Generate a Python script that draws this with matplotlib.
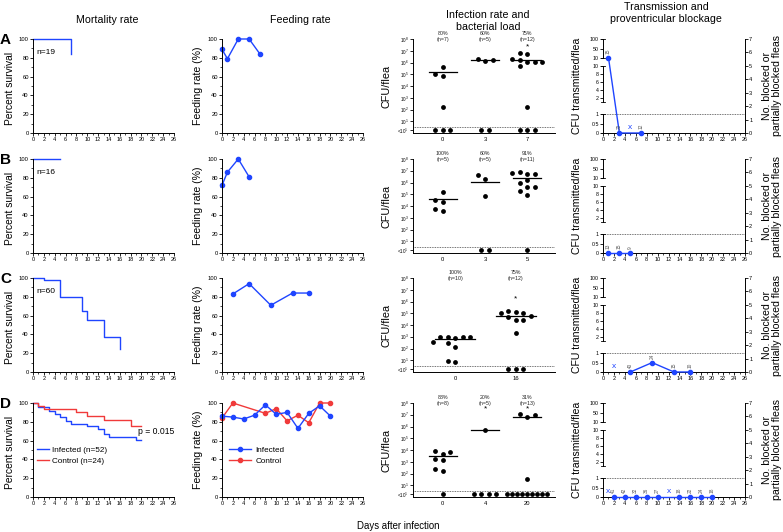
import numpy as np
import matplotlib
matplotlib.use('Agg')
import matplotlib.pyplot as plt
import matplotlib.transforms as mtransforms

plt.rcParams['font.family'] = ['Liberation Sans', 'DejaVu Sans']
plt.rcParams['mathtext.fontset'] = 'custom'
plt.rcParams['mathtext.rm'] = 'Liberation Sans'
plt.rcParams['axes.linewidth'] = 0.7

BLUE = '#1f45ff'
RED = '#f03a3a'
W, H = 783, 532

# ---- mortality (Kaplan-Meier steps: day of step, % surviving after it, last day) ----
surv_A_t = [0, 7]
surv_A_v = [100, 84]
surv_A_end = 7
surv_B_t = [0]
surv_B_v = [100]
surv_B_end = 5
surv_C_t = [0, 2, 5, 9, 10, 13, 16]
surv_C_v = [100, 98, 80, 65, 55, 37, 24]
surv_C_end = 16
surv_D_inf_t = [0, 1, 3, 4, 5, 6, 7, 10, 12, 13, 14, 19]
surv_D_inf_v = [100, 96, 92, 88, 85, 81, 78, 76, 72, 67, 64, 61]
surv_D_ctl_t = [0, 1, 2, 8, 10, 13, 18]
surv_D_ctl_v = [100, 97, 94, 90, 86, 82, 76]
surv_D_end = 20

# ---- feeding rate (%) ----
feed_A_day = [0, 1, 3, 5, 7]
feed_A = [89, 79, 100, 100, 84]
feed_B_day = [0, 1, 3, 5]
feed_B = [72, 86, 100, 81]
feed_C_day = [2, 5, 9, 13, 16]
feed_C = [83, 94, 71, 84, 84]
feed_D_inf_day = [0, 2, 4, 6, 8, 10, 12, 14, 16, 18, 20]
feed_D_inf = [86, 85, 83, 87, 98, 88, 90, 73, 89, 97, 86]
feed_D_ctl_day = [0, 2, 8, 10, 12, 14, 16, 18, 20]
feed_D_ctl = [84, 100, 89, 94, 81, 87, 79, 100, 100]

# ---- bacterial load: log10 CFU/flea of positive fleas, count of negatives ----
cfu_A_days = ['0', '3', '7']
cfu_A_pos = [[5.59, 4.88, 5.03, 2.22], [6.16, 6.33, 6.22],
             [6.07, 5.73, 6.22, 6.73, 6.81, 6.07, 6.33, 6.05, 2.2]]
cfu_A_neg = [3, 2, 3]
cfu_A_line = [5.2, 6.2, 6.25]
cfu_A_pct = ['80%\n(n=7)', '60%\n(n=5)', '75%\n(n=12)']
cfu_A_star = [False, False, True]

cfu_B_days = ['0', '3', '5']
cfu_B_pos = [[5.17, 4.32, 4.52, 3.58, 3.72], [6.3, 6.61, 4.86],
             [6.73, 6.87, 6.73, 6.78, 6.24, 6.0, 5.62, 5.28, 4.97, 5.6]]
cfu_B_neg = [0, 2, 1]
cfu_B_line = [4.57, 6.05, 6.4]
cfu_B_pct = ['100%\n(n=5)', '60%\n(n=5)', '91%\n(n=11)']
cfu_B_star = [False, False, False]

cfu_C_days = ['0', '16']
cfu_C_pos = [[2.86, 2.94, 3.0, 3.0, 3.0, 2.57, 2.43, 2.14, 0.86, 0.91],
             [5.09, 5.2, 5.0, 5.0, 4.71, 4.46, 4.46, 3.29, 4.8]]
cfu_C_neg = [0, 3]
cfu_C_line = [2.8, 4.8]
cfu_C_pct = ['100%\n(n=10)', '75%\n(n=12)']
cfu_C_star = [False, True]

cfu_D_days = ['0', '4', '20']
cfu_D_pos = [[3.7, 3.93, 3.87, 3.13, 3.27, 2.18, 2.41], [5.71],
             [6.85, 7.03, 6.97, 1.55]]
cfu_D_neg = [1, 4, 9]
cfu_D_line = [3.5, 5.71, 6.85]
cfu_D_pct = ['88%\n(n=8)', '20%\n(n=5)', '31%\n(n=13)']
cfu_D_star = [False, True, True]

# ---- transmission: CFU transmitted/flea, fleas tested, days with no data (x) ----
trans_A_day = [1, 3, 7]
trans_A = [11, 0, 0]
trans_A_n = ['15', '20', '12']
trans_A_x = [5]
trans_B_day = [1, 3, 5]
trans_B = [0, 0, 0]
trans_B_n = ['13', '15', '9']
trans_B_x = []
trans_C_day = [5, 9, 13, 16]
trans_C = [0, 0.5, 0, 0]
trans_C_n = ['40', '24', '15', '10']
trans_C_x = [2]
trans_D_day = [2, 4, 6, 8, 10, 14, 16, 18, 20]
trans_D = [0, 0, 0, 0, 0, 0, 0, 0, 0]
trans_D_n = ['41', '42', '32', '36', '27', '18', '22', '24', '18']
trans_D_x = [1, 12]

ROWS = [(39, 133), (159, 253), (278, 372), (403, 497)]
COLS = {'surv': (33, 174), 'feed': (222, 363), 'cfu': (413, 555), 'trans': (603, 745)}


def px_box(l, t, r, b):
    return [l / W, 1 - b / H, (r - l) / W, (b - t) / H]


def day_axis(ax):
    ax.set_xlim(0, 26)
    ax.set_xticks(range(0, 27, 2))
    ax.set_xticks(range(0, 27), minor=True)
    ax.tick_params(axis='x', labelsize=4, length=2, width=0.6, pad=1)
    ax.tick_params(axis='x', which='minor', length=1.2, width=0.5)
    ax.spines['top'].set_visible(False)
    ax.spines['right'].set_visible(False)


def pct_axis(ax):
    day_axis(ax)
    ax.set_ylim(0, 100)
    ax.set_yticks(range(0, 101, 20))
    ax.set_yticks(range(0, 101, 10), minor=True)
    ax.tick_params(axis='y', labelsize=4.2, length=2, width=0.6, pad=1)
    ax.tick_params(axis='y', which='minor', length=1.2, width=0.5)


def km(ax, t, v, end, color, label=None):
    return ax.step(list(t) + [end], list(v) + [v[-1]], where='post', color=color,
                   lw=1, clip_on=False, label=label)[0]


def cfu_panel(ax, days, pos, neg, line, pct, star, star_y):
    n = len(days)
    ax.set_xlim(-0.7, n - 1 + 0.65)
    ax.set_ylim(0, 8)
    ax.set_xticks(range(n))
    ax.set_xticklabels(days)
    ax.set_yticks([0.22] + list(range(1, 9)))
    ax.set_yticklabels(['<$10^{1}$'] + ['$10^{%d}$' % k for k in range(1, 9)])
    ax.tick_params(axis='y', labelsize=3.3, length=2, width=0.6, pad=1)
    ax.tick_params(axis='x', labelsize=4.2, length=0, pad=3)
    ax.spines['top'].set_visible(False)
    ax.spines['right'].set_visible(False)
    ax.axhline(0.5, color='#444444', lw=0.6, ls=(0, (1, 1)))
    p0 = ax.transData.transform((0, 0))
    p1 = ax.transData.transform((1, 1))
    pxx, pxy = p1[0] - p0[0], p1[1] - p0[1]
    step = 7.5
    for i in range(n):
        placed = []
        xs, ys = [], []
        for v in pos[i]:
            yp = v * pxy
            for k in [0, -1, 1, -2, 2, -3, 3, -4, 4, -5, 5]:
                xp = k * step
                if all(abs(xp - a) > 6 or abs(yp - b) > 5.5 for a, b in placed):
                    break
            placed.append((xp, yp))
            xs.append(i + xp / pxx)
            ys.append(v)
        m = neg[i]
        if m:
            sp = step if m == 1 else min(step, 40 / (m - 1))
            for j in range(m):
                xs.append(i + (j - (m - 1) / 2) * sp / pxx)
                ys.append(0.22)
        ax.scatter(xs, ys, s=12, color='black', zorder=3, clip_on=False, linewidths=0)
        ax.plot([i - 0.33, i + 0.33], [line[i], line[i]], color='black', lw=0.9)
        ax.text(i, 8.2, pct[i], ha='center', va='center', fontsize=3.8,
                linespacing=1.3, color='#222222')
        if star[i]:
            ax.text(i, star_y, '*', ha='center', va='center', fontsize=6)


def to_r(v):
    if v <= 1:
        return v * 1.4
    if v <= 10:
        return 2.33 + (v - 1) * 0.29875
    return 5.6 + (v - 10) * 1.4 / 90


def trans_panel(ax, days, vals, ns, xdays):
    day_axis(ax)
    ax.set_ylim(0, 7)
    ax.spines['left'].set_visible(False)
    r = [to_r(v) for v in vals]
    ax.plot(days, r, '-o', color=BLUE, ms=3, lw=1, clip_on=False, zorder=3)
    for d, rv, lab in zip(days, r, ns):
        ax.text(d, rv + 0.3, lab, rotation=90, ha='center', va='bottom',
                fontsize=3.4, color='#555555')
    for d in xdays:
        ax.text(d, 0.38, 'x', color=BLUE, ha='center', va='center', fontsize=6)
    ax.axhline(to_r(1), color='#444444', lw=0.6, ls=(0, (1, 1)))
    tr = mtransforms.blended_transform_factory(ax.transAxes, ax.transData)
    for a, b in [(0, 1), (1.0001, 10), (10.0001, 100)]:
        ra, rb = to_r(a), to_r(b)
        ax.plot([0, 0], [ra, rb], transform=tr, color='black', lw=0.7, clip_on=False)
        for y in (ra, rb):
            ax.plot([-0.012, 0.012], [y, y], transform=tr, color='black', lw=0.6,
                    clip_on=False)
    ticks = [0, 0.5, 1, 2, 4, 6, 8, 10, 10.0001, 50, 100]
    labels = ['0', '0.5', '1', '2', '4', '6', '8', '10', '10', '50', '100']
    ax.set_yticks([to_r(t) for t in ticks])
    ax.set_yticklabels(labels)
    ax.tick_params(axis='y', labelsize=3.8, length=2, width=0.6, pad=1)
    ax2 = ax.twinx()
    ax2.set_ylim(0, 7)
    ax2.set_yticks(range(8))
    ax2.tick_params(axis='y', labelsize=4, length=2, width=0.6, pad=1)
    for s in ['left', 'top', 'bottom']:
        ax2.spines[s].set_visible(False)


fig = plt.figure(figsize=(W / 100, H / 100), dpi=100)

surv = []
feed = []
cfu = []
trans = []
for top, bot in ROWS:
    surv.append(fig.add_axes(px_box(COLS['surv'][0], top, COLS['surv'][1], bot)))
    feed.append(fig.add_axes(px_box(COLS['feed'][0], top, COLS['feed'][1], bot)))
    cfu.append(fig.add_axes(px_box(COLS['cfu'][0], top, COLS['cfu'][1], bot)))
    trans.append(fig.add_axes(px_box(COLS['trans'][0], top, COLS['trans'][1], bot)))

# mortality
for ax in surv:
    pct_axis(ax)
km(surv[0], surv_A_t, surv_A_v, surv_A_end, BLUE)
km(surv[1], surv_B_t, surv_B_v, surv_B_end, BLUE)
km(surv[2], surv_C_t, surv_C_v, surv_C_end, BLUE)
h1 = km(surv[3], surv_D_inf_t, surv_D_inf_v, surv_D_end, BLUE, 'Infected (n=52)')
h2 = km(surv[3], surv_D_ctl_t, surv_D_ctl_v, surv_D_end, RED, 'Control (n=24)')
for ax, lab in zip(surv[:3], ['n=19', 'n=16', 'n=60']):
    ax.text(0.025, 0.86, lab, transform=ax.transAxes, fontsize=6, va='center')
surv[3].legend(handles=[h1, h2], loc='center left', bbox_to_anchor=(0.03, 0.44),
               frameon=False, fontsize=5.9, handlelength=1.4, handletextpad=0.4,
               labelspacing=0.45, borderaxespad=0, borderpad=0)
surv[3].text(0.745, 0.70, 'p = 0.015', transform=surv[3].transAxes, fontsize=6.2,
             va='center')

# feeding
for ax in feed:
    pct_axis(ax)
feed[0].plot(feed_A_day, feed_A, '-o', color=BLUE, ms=3, lw=1, clip_on=False)
feed[1].plot(feed_B_day, feed_B, '-o', color=BLUE, ms=3, lw=1, clip_on=False)
feed[2].plot(feed_C_day, feed_C, '-o', color=BLUE, ms=3, lw=1, clip_on=False)
feed[3].plot(feed_D_ctl_day, feed_D_ctl, '-o', color=RED, ms=3, lw=1, clip_on=False,
             label='Control')
feed[3].plot(feed_D_inf_day, feed_D_inf, '-o', color=BLUE, ms=3, lw=1, clip_on=False,
             label='Infected')
hh, ll = feed[3].get_legend_handles_labels()
feed[3].legend(hh[::-1], ll[::-1], loc='center left', bbox_to_anchor=(0.05, 0.44),
               frameon=False, fontsize=5.9, handlelength=2.7, handletextpad=0.5,
               labelspacing=0.45, borderaxespad=0, borderpad=0)

# bacterial load
cfu_panel(cfu[0], cfu_A_days, cfu_A_pos, cfu_A_neg, cfu_A_line, cfu_A_pct, cfu_A_star, 7.33)
cfu_panel(cfu[1], cfu_B_days, cfu_B_pos, cfu_B_neg, cfu_B_line, cfu_B_pct, cfu_B_star, 7.33)
cfu_panel(cfu[2], cfu_C_days, cfu_C_pos, cfu_C_neg, cfu_C_line, cfu_C_pct, cfu_C_star, 6.2)
cfu_panel(cfu[3], cfu_D_days, cfu_D_pos, cfu_D_neg, cfu_D_line, cfu_D_pct, cfu_D_star, 7.5)

# transmission
trans_panel(trans[0], trans_A_day, trans_A, trans_A_n, trans_A_x)
trans_panel(trans[1], trans_B_day, trans_B, trans_B_n, trans_B_x)
trans_panel(trans[2], trans_C_day, trans_C, trans_C_n, trans_C_x)
trans_panel(trans[3], trans_D_day, trans_D, trans_D_n, trans_D_x)


# text around the grid
def ftext(x, y, s, **kw):
    fig.text(x / W, 1 - y / H, s, **kw)


ftext(107, 20, 'Mortality rate', ha='center', va='center', fontsize=7.7)
ftext(300, 20, 'Feeding rate', ha='center', va='center', fontsize=7.7)
ftext(488, 21.5, 'Infection rate and\nbacterial load', ha='center', va='center',
      fontsize=7.7, linespacing=1.25)
ftext(666, 13.5, 'Transmission and\nproventricular blockage', ha='center', va='center',
      fontsize=7.7, linespacing=1.25)
for (top, bot), letter in zip(ROWS, 'ABCD'):
    yc = (top + bot) / 2
    ftext(0, top + 1, letter, ha='left', va='center', fontsize=11, fontweight='bold')
    ftext(10, yc + 2, 'Percent survival', rotation=90, ha='center', va='center',
          fontsize=7.4)
    ftext(198, yc, 'Feeding rate (%)', rotation=90, ha='center', va='center', fontsize=7.6)
    ftext(387, yc, 'CFU/flea', rotation=90, ha='center', va='center', fontsize=7.8)
    ftext(577, yc, 'CFU transmitted/flea', rotation=90, ha='center', va='center',
          fontsize=7.6)
    ftext(772, yc, 'No. blocked or\npartially blocked fleas', rotation=90, ha='center',
          va='center', fontsize=7.6, linespacing=1.1)
ftext(398, 526, 'Days after infection', ha='center', va='center', fontsize=6.9)

fig.savefig('out.png', dpi=100)
